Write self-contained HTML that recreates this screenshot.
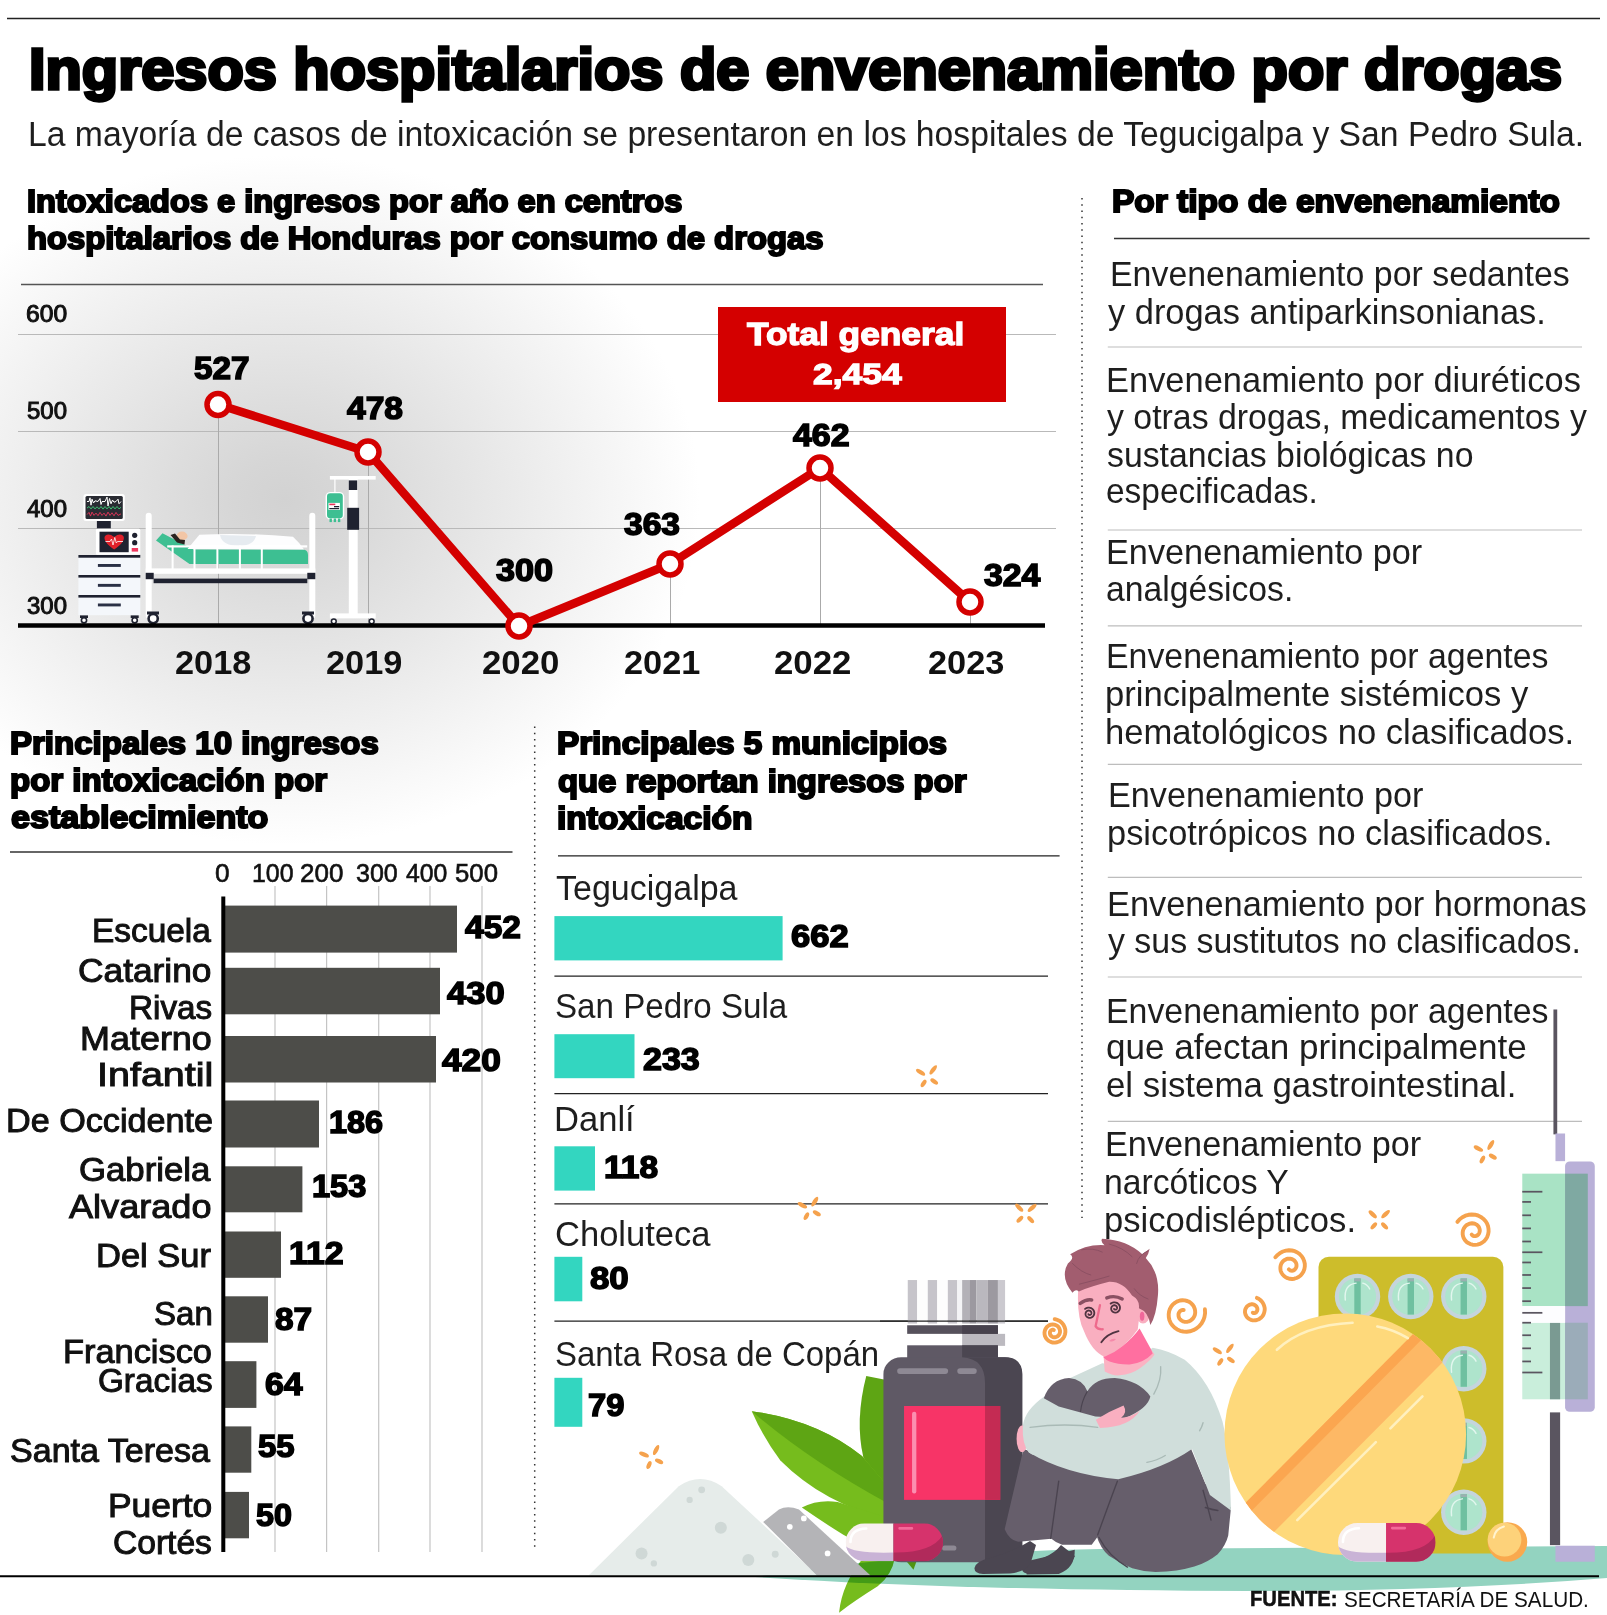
<!DOCTYPE html>
<html lang="es"><head><meta charset="utf-8"><title>Ingresos hospitalarios de envenenamiento por drogas</title>
<style>
html,body{margin:0;padding:0;background:#fff;}
body{width:1607px;height:1615px;position:relative;overflow:hidden;font-family:"Liberation Sans",sans-serif;}
#g{position:absolute;left:0;top:0;width:1607px;height:1615px;}
.t{position:absolute;white-space:nowrap;line-height:1;transform-origin:0 50%;font-family:"Liberation Sans",sans-serif;}
</style></head><body>
<svg id="g" width="1607" height="1615" viewBox="0 0 1607 1615">
<defs>
<radialGradient id="bg" cx="0.5" cy="0.5" r="0.5">
<stop offset="0" stop-color="#d2d2d2"/><stop offset="0.12" stop-color="#d6d6d6"/><stop offset="1" stop-color="#ffffff"/>
</radialGradient>
</defs>
<!--BG-->
<ellipse cx="285" cy="500" rx="415" ry="345" fill="url(#bg)"/>
<!--RULES-->
<g stroke="#222" stroke-width="1.5" fill="none">
<line x1="7" y1="18.5" x2="1600" y2="18.5"/>
</g>
<!--LINECHART-->
<g id="linechart">
<line x1="21" y1="284.5" x2="1043" y2="284.5" stroke="#555" stroke-width="1.3"/>
<g stroke="#b9b9b9" stroke-width="1">
<line x1="18" y1="334.5" x2="1056" y2="334.5"/>
<line x1="18" y1="431.5" x2="1056" y2="431.5"/>
<line x1="18" y1="528.5" x2="1056" y2="528.5"/>
</g>
<g stroke="#aaa" stroke-width="1">
<line x1="218.5" y1="405" x2="218.5" y2="625"/><line x1="368.5" y1="452" x2="368.5" y2="625"/>
<line x1="670.5" y1="564" x2="670.5" y2="625"/><line x1="820.5" y1="468" x2="820.5" y2="625"/><line x1="970.5" y1="602" x2="970.5" y2="625"/>
</g>
<!--HOSPITAL-->
<g id="hospital">
<!-- monitor -->
<rect x="83.5" y="493.9" width="41.3" height="27" rx="2.5" fill="#fff"/>
<rect x="85.5" y="495.9" width="37.3" height="23" rx="1.5" fill="#2a2c33"/>
<polyline points="87,501.5 89,501.5 90,497.8 91,505.2 92,499.2 93.5,503.0 95,500.8 98,501.5 100,498.5 101,504.5 102,501.5 105,501.5 107,497.0 108,506.0 109.5,498.5 111,503.8 112.5,500.0 114,502.2 116,501.5 118,499.2 119,503.8 121,501.5" fill="none" stroke="#fff" stroke-width="1"/>
<polyline points="87,508.1 89,506.5 91,508.9 93,506.5 95,508.9 97,506.8 99,508.9 101,506.5 103,509.1 105,506.5 107,508.9 109,506.5 111,509.1 113,506.5 115,508.9 117,506.5 119,508.9 121,507.3" fill="none" stroke="#3fd07a" stroke-width="0.9"/>
<polyline points="87,514.6 89,512.4 90.5,516.1 92,512.1 94,515.4 96,513.1 98,515.7 100,512.4 102,515.4 104,513.1 106,516.1 108,512.1 110,515.4 112,512.8 114,515.8 116,512.4 118,515.4 121,513.9" fill="none" stroke="#e8355a" stroke-width="0.9"/>
<rect x="96.9" y="521" width="13.9" height="7.5" fill="#1f2230"/>
<!-- heart monitor -->
<rect x="95.9" y="528.8" width="44.4" height="26" rx="1.5" fill="#fff"/>
<rect x="99.5" y="531.7" width="29.2" height="20.5" fill="#1f2230"/>
<path d="M114.2 549.5 C107 544.5 104.5 541 104.5 537.8 C104.5 534.3 109.5 532.8 114.2 537 C118.9 532.8 123.9 534.3 123.9 537.8 C123.9 541 121.4 544.5 114.2 549.5Z" fill="#e0202a"/>
<polyline points="105.5,541.5 110,541.5 111.5,539 113,545 114.8,537.5 116.3,543 117.5,541.5 123,541.5" fill="none" stroke="#fff" stroke-width="0.8"/>
<circle cx="134.7" cy="535.3" r="2.6" fill="#1f2230"/><circle cx="134.7" cy="542.7" r="2.6" fill="#1f2230"/>
<rect x="131.7" y="548" width="6.4" height="3.6" fill="#f0385f"/>
<!-- cabinet -->
<rect x="78.4" y="555.2" width="61.9" height="60" fill="#f4f7fb"/>
<rect x="78.4" y="555" width="61.9" height="2.7" fill="#1f2230"/>
<rect x="78.4" y="575" width="61.9" height="2.6" fill="#1f2230"/>
<rect x="78.4" y="595" width="61.9" height="2.6" fill="#1f2230"/>
<rect x="97.9" y="564" width="22.9" height="2.9" fill="#2a3045"/>
<rect x="97.9" y="583.9" width="22.9" height="2.9" fill="#2a3045"/>
<rect x="97.9" y="603.5" width="22.9" height="2.9" fill="#2a3045"/>
<g fill="#fff" stroke="#1f2230" stroke-width="1.6"><circle cx="84" cy="620.3" r="2.6"/><circle cx="134.7" cy="620.3" r="2.6"/></g>
<rect x="80" y="615.4" width="8" height="2.6" fill="#1f2230"/><rect x="130.7" y="615.4" width="8" height="2.6" fill="#1f2230"/>
<!-- bed -->
<path d="M156 540.5 L162.5 533.3 L193.5 549.6 L303 549.6 Q308 550 308 555 L308 564 L189.5 564 Z" fill="#3dbf92"/>
<path d="M187.5 549 L199.4 534.7 Q245 532.5 293 536.7 Q300 543 304 549.6 Z" fill="#fdfdfe"/>
<path d="M220 535 Q222 546 240 546 Q254 545 256 536 Z" fill="#e6ebf0"/>
<ellipse cx="182" cy="536" rx="5.6" ry="4.4" fill="#f2c6a6"/>
<path d="M170.5 535 L175 533.6 L180 539.5 L185 540 L184.5 544.5 L177 542.5 Z" fill="#2a2320"/>
<rect x="167.2" y="545.3" width="140" height="2.2" fill="#fff"/>
<g fill="#fff"><rect x="171.6" y="545.5" width="2" height="23.5"/><rect x="193.5" y="545.5" width="2" height="23.5"/><rect x="216.4" y="545.5" width="2" height="23.5"/><rect x="238.9" y="545.5" width="2" height="23.5"/><rect x="260.8" y="545.5" width="2" height="23.5"/></g>
<rect x="145.7" y="512.8" width="6" height="106" rx="3" fill="#fff"/>
<rect x="309.3" y="512.8" width="6" height="106" rx="3" fill="#fff"/>
<rect x="145.7" y="568.4" width="169.6" height="5.4" fill="#fff"/>
<rect x="145.7" y="572.8" width="8" height="6.4" fill="#1f2230"/><rect x="307.3" y="572.8" width="8" height="6.4" fill="#1f2230"/>
<rect x="153.6" y="578.6" width="153.7" height="4.6" fill="#1f2230"/>
<g fill="#fff" stroke="#1f2230" stroke-width="2.6"><circle cx="153.2" cy="618.6" r="4.6"/><circle cx="308" cy="618.6" r="4.6"/></g>
<rect x="147" y="611.5" width="12" height="3" fill="#1f2230"/><rect x="302" y="611.5" width="12" height="3" fill="#1f2230"/>
<!-- IV stand -->
<rect x="329.9" y="476" width="45.8" height="3.6" fill="#fff"/>
<rect x="348.8" y="478" width="8.9" height="137" fill="#fff"/>
<rect x="348.8" y="480.4" width="8.4" height="9.6" fill="#1f2230"/>
<rect x="347.2" y="507.8" width="11.9" height="22" fill="#1f2230"/>
<rect x="329.9" y="613.4" width="45.8" height="5" fill="#fff"/>
<g fill="#fff" stroke="#1f2230" stroke-width="1.5"><circle cx="333.8" cy="621.3" r="2.4"/><circle cx="371.7" cy="621.3" r="2.4"/></g>
<line x1="334.9" y1="479" x2="334.9" y2="493" stroke="#fff" stroke-width="1.2"/>
<rect x="326.3" y="492.6" width="17.2" height="26.4" rx="4" fill="#3dbf92" stroke="#fff" stroke-width="1.4"/>
<rect x="329.5" y="518.5" width="2.4" height="3.6" fill="#3dbf92"/><rect x="333.7" y="518.5" width="2.4" height="3.6" fill="#3dbf92"/><rect x="337.9" y="518.5" width="2.4" height="3.6" fill="#3dbf92"/>
<rect x="328.5" y="502.9" width="11.4" height="7" fill="#fff"/>
<rect x="329.3" y="503.6" width="6" height="1.6" fill="#e8355a"/><rect x="334" y="506" width="5.2" height="1.3" fill="#1f2230"/><rect x="329.3" y="508" width="9.8" height="1.2" fill="#1f2230"/>
</g>
<line x1="18" y1="625.5" x2="1045" y2="625.5" stroke="#000" stroke-width="4.5"/>
<rect x="718" y="307" width="288" height="95" fill="#d40000"/>
<polyline points="218,404.5 368,452 519,626 670,564 820,468 970,602" fill="none" stroke="#d40000" stroke-width="8.5" stroke-linejoin="round"/>
<g fill="#fff" stroke="#d40000" stroke-width="5.5">
<circle cx="218" cy="404.5" r="11"/><circle cx="368" cy="452" r="11"/><circle cx="519" cy="626" r="11"/>
<circle cx="670" cy="564" r="11"/><circle cx="820" cy="468" r="11"/><circle cx="970" cy="602" r="11"/>
</g>
</g>
<!--BARCHART-->
<g id="barchart">
<line x1="10" y1="852" x2="512.5" y2="852" stroke="#333" stroke-width="1.3"/>
<g stroke="#c4c4c4" stroke-width="1.2">
<line x1="275" y1="886" x2="275" y2="1552"/><line x1="326.6" y1="886" x2="326.6" y2="1552"/><line x1="378.7" y1="886" x2="378.7" y2="1552"/>
<line x1="430" y1="886" x2="430" y2="1552"/><line x1="482" y1="886" x2="482" y2="1552"/>
</g>
<g fill="#4d4d49">
<rect x="224" y="905.6" width="233" height="47"/>
<rect x="224" y="967.8" width="216" height="46.5"/>
<rect x="224" y="1036" width="212" height="46.5"/>
<rect x="224" y="1100.5" width="95" height="47"/>
<rect x="224" y="1166.3" width="78.4" height="46"/>
<rect x="224" y="1231.5" width="57" height="46.3"/>
<rect x="224" y="1296.3" width="44" height="46.4"/>
<rect x="224" y="1361.2" width="32.4" height="46.7"/>
<rect x="224" y="1426.4" width="27.3" height="46.3"/>
<rect x="224" y="1491.9" width="25" height="46.4"/>
</g>
<line x1="223.3" y1="896.5" x2="223.3" y2="1552" stroke="#000" stroke-width="4"/>
</g>
<!--DIVIDERS-->
<g stroke="#333" stroke-width="1.5" stroke-dasharray="1.5 4.75" fill="none">
<line x1="534.7" y1="726.6" x2="534.7" y2="1548"/>
<line x1="1082" y1="198" x2="1082" y2="1218"/>
</g>
<!--MUNI-->
<g id="muni" transform="translate(0 0.8)">
<g stroke="#222" stroke-width="1.3">
<line x1="558" y1="855" x2="1059.6" y2="855"/>
<line x1="554.4" y1="975.3" x2="1048" y2="975.3"/>
<line x1="554.4" y1="1092.8" x2="1048" y2="1092.8"/>
<line x1="554.4" y1="1203" x2="1048" y2="1203"/>
<line x1="554.4" y1="1320.4" x2="1048" y2="1320.4"/>
</g>
<g fill="#33d6c0">
<rect x="554.4" y="915.3" width="228.2" height="44.3"/>
<rect x="554.4" y="1033.4" width="80.1" height="44"/>
<rect x="554.4" y="1145.5" width="40.6" height="44.3"/>
<rect x="554.4" y="1256" width="27.9" height="44.5"/>
<rect x="554.4" y="1377" width="27.9" height="49"/>
</g>
</g>
<!--RIGHTRULES-->
<g id="rrules">
<line x1="1114" y1="238.5" x2="1589.6" y2="238.5" stroke="#333" stroke-width="1.3"/>
<g stroke="#bdbdbd" stroke-width="1.2">
<line x1="1107.8" y1="347" x2="1582" y2="347"/>
<line x1="1107.8" y1="530" x2="1582" y2="530"/>
<line x1="1107.8" y1="625.8" x2="1582" y2="625.8"/>
<line x1="1107.8" y1="764.4" x2="1582" y2="764.4"/>
<line x1="1107.8" y1="877.3" x2="1582" y2="877.3"/>
<line x1="1107.8" y1="977" x2="1582" y2="977"/>
<line x1="1107.8" y1="1121.3" x2="1582" y2="1121.3"/>
</g>
</g>
<!--ILLUSTRATION-->
<g id="illus">
<path d="M755 1577 Q900 1553 1100 1549 L1607 1546 L1607 1578 Q1450 1591 1250 1591 Q950 1590 755 1577Z" fill="#93d3c0"/>
<g transform="translate(580 1260) scale(0.28625)">
<path d="M1000 405 Q960 560 990 690 L1075 820 L1075 420 Z" fill="#5ea514"/>
<path d="M600 528 Q830 560 985 685 L1075 790 L1075 905 Q850 850 700 700 Q640 620 600 528Z" fill="#76bc1d"/>
<path d="M600 528 Q830 560 985 685 L1075 790 L1075 850 Q800 700 600 528Z" fill="#5ea514"/>
<path d="M775 865 Q830 835 900 845 L1075 900 L1075 1010 Q1000 1010 920 960 Q840 910 775 865Z" fill="#76bc1d"/>
<path d="M905 1232 Q915 1130 990 1040 L1100 1040 Q1090 1100 1040 1140 Q960 1190 905 1232Z" fill="#76bc1d" style="mix-blend-mode:multiply"/>
<path d="M1130 1040 L1180 1040 L1165 1082Z" fill="#4f9410"/>
<path d="M30 1102 L345 790 Q420 740 495 790 L830 1102 Z" fill="#e6ecea"/>
<circle cx="425" cy="803" r="12" fill="#cfd8d6"/>
<circle cx="383" cy="838" r="11" fill="#cfd8d6"/>
<circle cx="492" cy="935" r="21" fill="#cfd8d6"/>
<circle cx="215" cy="1025" r="21" fill="#cfd8d6"/>
<circle cx="258" cy="1060" r="11" fill="#cfd8d6"/>
<circle cx="588" cy="1048" r="21" fill="#cfd8d6"/>
<circle cx="682" cy="1028" r="12" fill="#cfd8d6"/>
<path d="M640 915 L695 872 Q725 855 765 872 L1015 1102 L828 1102 Z" fill="#b4b4b7"/>
<circle cx="733" cy="932" r="10" fill="#fff"/>
<circle cx="782" cy="903" r="10" fill="#fff"/>
<circle cx="865" cy="1025" r="10" fill="#fff"/>
<rect x="1145" y="70" width="33" height="152" fill="#c6c4ca"/>
<rect x="1178" y="70" width="37" height="152" fill="#fdfdfd"/>
<rect x="1215" y="70" width="33" height="152" fill="#c6c4ca"/>
<rect x="1248" y="70" width="37" height="152" fill="#fdfdfd"/>
<rect x="1285" y="70" width="33" height="152" fill="#c6c4ca"/>
<rect x="1318" y="70" width="17" height="152" fill="#f4f4f6"/>
<rect x="1335" y="70" width="25" height="152" fill="#b3b1b7"/>
<rect x="1360" y="70" width="25" height="152" fill="#9c99a0"/>
<rect x="1385" y="70" width="40" height="152" fill="#bab8be"/>
<rect x="1425" y="70" width="35" height="152" fill="#9c99a0"/>
<rect x="1460" y="70" width="25" height="152" fill="#cbc9cf"/>
<rect x="1335" y="258" width="150" height="42" fill="#bcbac0"/>
<rect x="1143" y="228" width="317" height="30" fill="#56515c"/>
<rect x="1335" y="228" width="125" height="30" fill="#47424d"/>
<rect x="1143" y="298" width="317" height="60" fill="#5f5965"/>
<rect x="1335" y="298" width="125" height="60" fill="#4b4651"/>
<rect x="1060" y="340" width="485" height="716" rx="62" ry="58" fill="#5f5965"/>
<path d="M1335 340 Q1415 345 1415 430 L1415 1056 L1490 1056 Q1545 1056 1545 1000 L1545 400 Q1545 340 1485 340 Z" fill="#4b4651"/>
<rect x="1108" y="378" width="178" height="20" rx="10" fill="#8e8994"/><rect x="1318" y="378" width="68" height="20" rx="10" fill="#8e8994"/>
<rect x="1265" y="997" width="50" height="18" rx="9" fill="#8e8994"/>
<rect x="1132" y="510" width="336" height="328" fill="#f73467"/><rect x="1415" y="510" width="53" height="328" fill="#c42b53"/>
<rect x="1160" y="530" width="15" height="286" rx="7" fill="#fb8fb0"/>
<clipPath id="cp1"><rect x="928" y="920" width="340" height="132" rx="66"/></clipPath>
<g clip-path="url(#cp1)"><rect x="928" y="920" width="167" height="132" fill="#f8f0ef"/><rect x="1095" y="920" width="173" height="132" fill="#d6336c"/><path d="M928 1000 Q960 1026 1095 1022 L1095 1052 L928 1052Z" fill="#c9b3d6"/><path d="M1095 1022 Q1230 1024 1268 960 L1268 1052 L1095 1052Z" fill="#b12a5b"/><path d="M945 985 Q945 940 1000 938" fill="none" stroke="#fff" stroke-width="9" stroke-linecap="round"/><rect x="1112" y="933" width="52" height="9" rx="4" fill="#f46a9a"/></g>
</g>
<g transform="translate(990 1220) scale(0.22907)">
<path d="M160 1490 Q250 1470 370 1440 Q372 1520 300 1545 L160 1548 Z" fill="#4b4651"/>
<path d="M146 1000 L64 1350 Q85 1400 125 1405 L268 1391 Q290 1410 315 1418 L444 1418 Q470 1385 494 1343 L590 1118 L300 1050 Z" fill="#665e6b"/>
<path d="M560 1120 Q530 1230 519 1262 Q480 1340 465 1377 Q480 1430 519 1466 Q570 1500 621 1520 Q670 1535 723 1537 Q820 1535 892 1513 Q950 1495 994 1459 Q1030 1420 1040 1377 L1052 1255 L940 1150 L870 980 Q700 1110 560 1120Z" fill="#665e6b"/>
<path d="M490 625 L350 690 L240 768 Q150 830 143 900 Q140 980 170 1015 Q330 1110 560 1132 Q760 1085 882 1000 L960 1200 L1052 1268 Q1045 1000 1015 880 Q960 700 850 610 Q780 570 710 558 L600 640 Z" fill="#d0dedb"/>
<path d="M235 778 Q265 695 345 690 Q405 695 425 748 Q460 690 545 690 Q650 700 700 770 Q690 822 590 864 L460 858 L300 814 Z" fill="#665e6b"/>
<path d="M425 748 Q400 790 395 838" fill="none" stroke="#4b4450" stroke-width="5"/>
<path d="M462 872 Q520 835 583 810 Q602 842 572 864 Q620 860 655 832 Q610 905 480 908 Z" fill="#f9afc0"/>
<ellipse cx="140" cy="955" rx="24" ry="58" fill="#f9afc0"/>
<path d="M143 900 Q140 980 170 1015 Q190 1030 200 1025 Q170 960 175 890 Z" fill="#d0dedb"/>
<g fill="none" stroke="#a9bab6" stroke-width="6" stroke-linecap="round"><path d="M175 905 Q330 885 470 905"/><path d="M685 1058 Q730 1050 765 1028"/><path d="M930 885 Q925 905 915 920"/><path d="M745 640 Q750 700 715 760"/></g>
<g fill="none" stroke="#4b4450" stroke-width="6" stroke-linecap="round"><path d="M300 1140 Q280 1280 265 1390"/><path d="M556 1140 Q500 1290 470 1375"/><path d="M475 1385 Q520 1470 600 1515"/><path d="M930 1180 Q950 1250 965 1310"/><path d="M940 1255 Q970 1265 995 1268"/></g>
<path d="M496 598 L501 661 Q540 682 566 678 Q620 672 653 648 Q700 615 718 587 L701 561 Z" fill="#fbb3c3"/>
<path d="M496 591 Q590 560 653 474 L701 561 L710 583 Q670 625 610 631 Q560 632 522 618 Q505 610 496 600 Z" fill="#ff6fa0"/>
<ellipse cx="668" cy="412" rx="30" ry="40" fill="#f9afc0"/><ellipse cx="664" cy="420" rx="10" ry="20" fill="#f0679a"/>
<path d="M385 305 Q378 420 410 485 Q445 575 500 597 Q585 565 645 478 L662 330 Q560 190 385 290Z" fill="#f9afc0"/>
<path d="M350 150 Q420 105 500 110 Q480 92 490 82 Q600 88 665 150 L697 125 Q692 150 680 166 Q742 230 733 330 Q726 420 700 458 Q692 400 650 385 Q655 350 620 330 Q580 268 520 270 Q440 290 388 312 Q372 298 360 318 Q305 250 340 190 Q372 165 350 150Z" fill="#a25d6f"/>
<g fill="none" stroke="#8a4f61" stroke-width="4" stroke-linecap="round"><path d="M400 130 Q450 120 490 140"/><path d="M360 190 Q400 230 440 240"/><path d="M520 105 Q580 120 620 160"/><path d="M640 190 Q650 150 690 135"/><path d="M630 300 Q650 330 690 345"/><path d="M390 280 Q470 260 520 245"/></g>
<path d="M429.6 411.1 L430.0 412.0 L430.6 412.8 L431.4 413.5 L432.4 414.1 L433.6 414.4 L434.8 414.6 L436.2 414.5 L437.5 414.1 L438.8 413.4 L440.0 412.5 L441.1 411.3 L441.9 409.8 L442.4 408.2 L442.7 406.4 L442.6 404.5 L442.1 402.6 L441.3 400.8 L440.0 399.1 L438.5 397.7 L436.6 396.5 L434.5 395.7 L432.2 395.2 L429.8 395.2 L427.4 395.7 L425.0 396.6 L422.8 398.0 L420.8 399.8 L419.2 402.0 L418.0 404.5 L417.2 407.3 L417.0 410.2 L417.3 413.2 L418.2 416.2 L419.7 419.0 L421.6 421.5 L424.1 423.7 L427.0 425.4 L430.2 426.6 L433.7 427.1 L437.2 427.1 L440.8 426.3 L444.2 424.9 L447.3 422.9 L450.1 420.2 L452.4 417.0 L454.1 413.5 L455.1 409.5 L455.4 405.5 L454.9 401.3 L453.6 397.3 L451.6 393.4 L448.9 390.0 L445.6 387.1 L441.7 384.8 L437.4 383.3 L432.8 382.5 L428.1 382.6 L423.4 383.6 L418.9 385.4 L414.8 388.1" fill="none" stroke="#4f3340" stroke-width="8" stroke-linecap="round" stroke-linejoin="round"/>
<path d="M541.6 388.1 L542.0 389.0 L542.6 389.8 L543.4 390.5 L544.4 391.1 L545.6 391.4 L546.8 391.6 L548.2 391.5 L549.5 391.1 L550.8 390.4 L552.0 389.5 L553.1 388.3 L553.9 386.8 L554.4 385.2 L554.7 383.4 L554.6 381.5 L554.1 379.6 L553.3 377.8 L552.0 376.1 L550.5 374.7 L548.6 373.5 L546.5 372.7 L544.2 372.2 L541.8 372.2 L539.4 372.7 L537.0 373.6 L534.8 375.0 L532.8 376.8 L531.2 379.0 L530.0 381.5 L529.2 384.3 L529.0 387.2 L529.3 390.2 L530.2 393.2 L531.7 396.0 L533.6 398.5 L536.1 400.7 L539.0 402.4 L542.2 403.6 L545.7 404.1 L549.2 404.1 L552.8 403.3 L556.2 401.9 L559.3 399.9 L562.1 397.2 L564.4 394.0 L566.1 390.5 L567.1 386.5 L567.4 382.5 L566.9 378.3 L565.6 374.3 L563.6 370.4 L560.9 367.0 L557.6 364.1 L553.7 361.8 L549.4 360.3 L544.8 359.5 L540.1 359.6 L535.4 360.6 L530.9 362.4 L526.8 365.1" fill="none" stroke="#4f3340" stroke-width="8" stroke-linecap="round" stroke-linejoin="round"/>
<g fill="none" stroke="#8a5062" stroke-width="15" stroke-linecap="round"><path d="M394 364 Q420 345 444 349"/><path d="M510 340 Q545 327 577 345"/></g>
<path d="M480 372 L461 464 Q470 478 492 477" fill="none" stroke="#ee6a8c" stroke-width="10" stroke-linecap="round" stroke-linejoin="round"/>
<path d="M486 534 Q510 497 561 485" fill="none" stroke="#4f3340" stroke-width="8" stroke-linecap="round"/>
<path d="M520 528 Q535 514 550 520 Q540 536 520 528Z" fill="#f58aaa"/>
</g>
<path d="M1022 1569 Q1028 1562 1043 1558 Q1055 1553 1061 1545 L1075 1556 Q1070 1568 1058 1573 L1030 1574 Q1022 1573.5 1022 1569Z" fill="#4b4651"/>
<path d="M974.5 1568 Q976 1561 990 1558 Q1010 1553 1030 1541 L1036 1545 L1031 1562 Q1026 1572 1010 1573.5 L983 1574 Q974 1573.5 974.5 1568Z" fill="#4b4651"/>
<g transform="translate(1207 1130) scale(0.29112)">
<rect x="383" y="435" width="635" height="1020" rx="36" fill="#cdbd2b"/>
<circle cx="517" cy="572" r="78" fill="#c5d5dc"/><circle cx="517" cy="572" r="64" fill="#aee4cc"/><rect x="506" y="510" width="22" height="124" fill="#6fc0a0"/><rect x="506" y="510" width="22" height="10" fill="#9ab0b0"/><path d="M475 584 Q469 532 512 526" fill="none" stroke="#e2f6ee" stroke-width="5" stroke-linecap="round"/><path d="M535 526 Q551 530 559 546" fill="none" stroke="#e2f6ee" stroke-width="5" stroke-linecap="round"/>
<circle cx="700" cy="572" r="78" fill="#c5d5dc"/><circle cx="700" cy="572" r="64" fill="#aee4cc"/><rect x="689" y="510" width="22" height="124" fill="#6fc0a0"/><rect x="689" y="510" width="22" height="10" fill="#9ab0b0"/><path d="M658 584 Q652 532 695 526" fill="none" stroke="#e2f6ee" stroke-width="5" stroke-linecap="round"/><path d="M718 526 Q734 530 742 546" fill="none" stroke="#e2f6ee" stroke-width="5" stroke-linecap="round"/>
<circle cx="882" cy="572" r="78" fill="#c5d5dc"/><circle cx="882" cy="572" r="64" fill="#aee4cc"/><rect x="871" y="510" width="22" height="124" fill="#6fc0a0"/><rect x="871" y="510" width="22" height="10" fill="#9ab0b0"/><path d="M840 584 Q834 532 877 526" fill="none" stroke="#e2f6ee" stroke-width="5" stroke-linecap="round"/><path d="M900 526 Q916 530 924 546" fill="none" stroke="#e2f6ee" stroke-width="5" stroke-linecap="round"/>
<circle cx="882" cy="820" r="78" fill="#c5d5dc"/><circle cx="882" cy="820" r="64" fill="#aee4cc"/><rect x="871" y="758" width="22" height="124" fill="#6fc0a0"/><rect x="871" y="758" width="22" height="10" fill="#9ab0b0"/><path d="M840 832 Q834 780 877 774" fill="none" stroke="#e2f6ee" stroke-width="5" stroke-linecap="round"/><path d="M900 774 Q916 778 924 794" fill="none" stroke="#e2f6ee" stroke-width="5" stroke-linecap="round"/>
<circle cx="882" cy="1068" r="78" fill="#c5d5dc"/><circle cx="882" cy="1068" r="64" fill="#aee4cc"/><rect x="871" y="1006" width="22" height="124" fill="#6fc0a0"/><rect x="871" y="1006" width="22" height="10" fill="#9ab0b0"/><path d="M840 1080 Q834 1028 877 1022" fill="none" stroke="#e2f6ee" stroke-width="5" stroke-linecap="round"/><path d="M900 1022 Q916 1026 924 1042" fill="none" stroke="#e2f6ee" stroke-width="5" stroke-linecap="round"/>
<circle cx="882" cy="1313" r="78" fill="#c5d5dc"/><circle cx="882" cy="1313" r="64" fill="#aee4cc"/><rect x="871" y="1251" width="22" height="124" fill="#6fc0a0"/><rect x="871" y="1251" width="22" height="10" fill="#9ab0b0"/><path d="M840 1325 Q834 1273 877 1267" fill="none" stroke="#e2f6ee" stroke-width="5" stroke-linecap="round"/><path d="M900 1267 Q916 1271 924 1287" fill="none" stroke="#e2f6ee" stroke-width="5" stroke-linecap="round"/>
<clipPath id="cpp"><circle cx="475" cy="1045" r="415"/></clipPath>
<circle cx="475" cy="1045" r="415" fill="#fed97b"/>
<g clip-path="url(#cpp)"><g transform="translate(470 1040) rotate(-45.2)"><rect x="-600" y="-70" width="1200" height="140" fill="#fdb865"/><rect x="-600" y="-70" width="1200" height="34" fill="#fba650"/></g></g>
<g fill="none" stroke="#fff0bf" stroke-width="9" stroke-linecap="round"><path d="M240 755 Q330 670 500 662"/><path d="M585 675 Q640 685 690 715"/><path d="M630 1025 L740 915"/><path d="M310 1340 L580 1072"/></g>
<clipPath id="cp2"><rect x="450" y="1350" width="335" height="133" rx="66"/></clipPath>
<g clip-path="url(#cp2)"><rect x="450" y="1350" width="165" height="133" fill="#f8f0ef"/><rect x="615" y="1350" width="170" height="133" fill="#d6336c"/><path d="M450 1430 Q480 1456 615 1452 L615 1483 L450 1483Z" fill="#c9b3d6"/><path d="M615 1452 Q750 1454 785 1390 L785 1483 L615 1483Z" fill="#b12a5b"/><path d="M467 1415 Q467 1370 522 1368" fill="none" stroke="#fff" stroke-width="9" stroke-linecap="round"/><rect x="632" y="1363" width="52" height="9" rx="4" fill="#f46a9a"/></g>
<circle cx="1032" cy="1415" r="68" fill="#f9a94e"/><circle cx="1022" cy="1407" r="58" fill="#fdd27a"/><path d="M985 1400 Q990 1370 1020 1362" fill="none" stroke="#fff3cf" stroke-width="7" stroke-linecap="round"/>
<rect x="1190" y="-414" width="13" height="429" fill="#5a5560"/>
<rect x="1197" y="12" width="33" height="95" fill="#b9b0d8"/>
<rect x="1230" y="108" width="102" height="860" rx="16" fill="#b9b0d8"/>
<rect x="1083" y="150" width="147" height="455" fill="#a9e3c5"/><rect x="1230" y="150" width="78" height="455" fill="#7fa9a2"/>
<rect x="1083" y="662" width="147" height="263" fill="#c9eedb"/><rect x="1230" y="662" width="78" height="263" fill="#9bacb9"/>
<rect x="1178" y="662" width="35" height="263" fill="#7a9a92"/>
<rect x="1083" y="605" width="147" height="57" fill="#fdfdff"/>
<g stroke="#5a5560" stroke-width="6"><line x1="1083" y1="212" x2="1152" y2="212"/><line x1="1083" y1="420" x2="1152" y2="420"/><line x1="1083" y1="628" x2="1152" y2="628"/><line x1="1083" y1="833" x2="1152" y2="833"/><line x1="1083" y1="247" x2="1113" y2="247"/><line x1="1083" y1="293" x2="1113" y2="293"/><line x1="1083" y1="338" x2="1113" y2="338"/><line x1="1083" y1="383" x2="1113" y2="383"/><line x1="1083" y1="455" x2="1113" y2="455"/><line x1="1083" y1="498" x2="1113" y2="498"/><line x1="1083" y1="543" x2="1113" y2="543"/><line x1="1083" y1="588" x2="1113" y2="588"/><line x1="1083" y1="662" x2="1113" y2="662"/><line x1="1083" y1="705" x2="1113" y2="705"/><line x1="1083" y1="750" x2="1113" y2="750"/><line x1="1083" y1="795" x2="1113" y2="795"/></g>
<rect x="1178" y="970" width="35" height="456" fill="#5a5560"/>
<rect x="1197" y="1428" width="135" height="55" fill="#b9b0d8"/>
</g>
<path d="M1288.9 1269.3 L1289.3 1269.7 L1289.8 1270.1 L1290.5 1270.5 L1291.2 1270.6 L1292.0 1270.7 L1292.8 1270.6 L1293.6 1270.3 L1294.4 1269.8 L1295.1 1269.1 L1295.7 1268.3 L1296.2 1267.4 L1296.5 1266.3 L1296.5 1265.1 L1296.4 1264.0 L1296.0 1262.8 L1295.3 1261.7 L1294.5 1260.7 L1293.4 1259.9 L1292.2 1259.2 L1290.8 1258.8 L1289.3 1258.6 L1287.8 1258.7 L1286.2 1259.2 L1284.8 1259.9 L1283.4 1260.9 L1282.3 1262.1 L1281.3 1263.6 L1280.7 1265.3 L1280.4 1267.1 L1280.4 1269.0 L1280.7 1270.9 L1281.5 1272.8 L1282.6 1274.5 L1284.0 1276.0 L1285.7 1277.3 L1287.6 1278.2 L1289.8 1278.8 L1292.0 1279.0 L1294.3 1278.7 L1296.5 1278.0 L1298.6 1277.0 L1300.6 1275.5 L1302.2 1273.6 L1303.5 1271.4 L1304.4 1269.0 L1304.8 1266.5 L1304.8 1263.8 L1304.2 1261.2 L1303.2 1258.6 L1301.7 1256.3 L1299.8 1254.2 L1297.4 1252.5 L1294.8 1251.2 L1291.9 1250.5 L1288.9 1250.2 L1285.9 1250.6 L1282.9 1251.5 L1280.1 1252.9 L1277.6 1254.9 L1275.4 1257.3" fill="none" stroke="#f5a24d" stroke-width="3.9" stroke-linecap="round" stroke-linejoin="round"/>
<path d="M1471.7 1234.6 L1472.1 1235.1 L1472.7 1235.6 L1473.4 1235.9 L1474.1 1236.1 L1475.0 1236.1 L1475.9 1236.0 L1476.7 1235.7 L1477.6 1235.2 L1478.3 1234.5 L1479.0 1233.6 L1479.4 1232.6 L1479.7 1231.5 L1479.8 1230.3 L1479.6 1229.0 L1479.2 1227.8 L1478.5 1226.6 L1477.6 1225.5 L1476.5 1224.6 L1475.2 1223.9 L1473.7 1223.5 L1472.1 1223.3 L1470.5 1223.5 L1468.9 1223.9 L1467.3 1224.7 L1465.9 1225.7 L1464.7 1227.1 L1463.7 1228.6 L1463.0 1230.4 L1462.7 1232.4 L1462.7 1234.4 L1463.1 1236.4 L1463.8 1238.3 L1465.0 1240.2 L1466.5 1241.8 L1468.3 1243.1 L1470.3 1244.1 L1472.6 1244.7 L1475.0 1244.9 L1477.4 1244.6 L1479.8 1243.9 L1482.0 1242.8 L1484.1 1241.2 L1485.8 1239.2 L1487.2 1236.9 L1488.1 1234.4 L1488.6 1231.6 L1488.5 1228.8 L1488.0 1226.0 L1486.9 1223.3 L1485.3 1220.8 L1483.2 1218.7 L1480.8 1216.9 L1478.0 1215.5 L1474.9 1214.7 L1471.7 1214.5 L1468.5 1214.8 L1465.4 1215.7 L1462.4 1217.3 L1459.7 1219.3 L1457.4 1221.9" fill="none" stroke="#f5a24d" stroke-width="3.9" stroke-linecap="round" stroke-linejoin="round"/>
<path d="M1252.8 1312.7 L1253.1 1312.9 L1253.5 1313.1 L1254.0 1313.1 L1254.4 1313.1 L1254.9 1313.0 L1255.4 1312.8 L1255.9 1312.5 L1256.3 1312.1 L1256.7 1311.6 L1257.0 1311.1 L1257.2 1310.4 L1257.4 1309.8 L1257.4 1309.0 L1257.3 1308.3 L1257.0 1307.6 L1256.7 1306.9 L1256.2 1306.2 L1255.5 1305.6 L1254.8 1305.1 L1254.0 1304.7 L1253.1 1304.4 L1252.2 1304.3 L1251.2 1304.3 L1250.2 1304.5 L1249.2 1304.9 L1248.2 1305.4 L1247.4 1306.1 L1246.6 1306.9 L1246.0 1307.9 L1245.5 1308.9 L1245.1 1310.1 L1245.0 1311.3 L1245.0 1312.6 L1245.3 1313.9 L1245.7 1315.1 L1246.4 1316.3 L1247.2 1317.4 L1248.3 1318.3 L1249.5 1319.1 L1250.8 1319.8 L1252.2 1320.2 L1253.7 1320.4 L1255.3 1320.3 L1256.8 1320.0 L1258.3 1319.5 L1259.7 1318.7 L1261.1 1317.7 L1262.2 1316.5 L1263.2 1315.1 L1263.9 1313.5 L1264.4 1311.8 L1264.7 1310.0 L1264.7 1308.2 L1264.3 1306.4 L1263.7 1304.6 L1262.8 1302.9 L1261.7 1301.4 L1260.3 1300.0 L1258.7 1298.8 L1256.9 1297.9" fill="none" stroke="#f5a24d" stroke-width="3.9" stroke-linecap="round" stroke-linejoin="round"/>
<path d="M1183.7 1310.0 L1182.9 1309.9 L1182.2 1310.0 L1181.4 1310.3 L1180.6 1310.7 L1179.9 1311.3 L1179.3 1312.1 L1178.8 1313.0 L1178.5 1314.1 L1178.5 1315.2 L1178.6 1316.4 L1179.0 1317.6 L1179.6 1318.7 L1180.5 1319.7 L1181.6 1320.6 L1182.9 1321.3 L1184.3 1321.7 L1185.9 1321.9 L1187.5 1321.7 L1189.1 1321.3 L1190.6 1320.5 L1192.0 1319.4 L1193.2 1318.1 L1194.2 1316.5 L1194.9 1314.7 L1195.2 1312.7 L1195.1 1310.7 L1194.7 1308.7 L1193.9 1306.7 L1192.7 1304.9 L1191.2 1303.3 L1189.3 1301.9 L1187.2 1301.0 L1184.8 1300.4 L1182.4 1300.2 L1179.9 1300.5 L1177.5 1301.3 L1175.2 1302.6 L1173.1 1304.2 L1171.4 1306.3 L1170.0 1308.7 L1169.1 1311.4 L1168.7 1314.2 L1168.8 1317.1 L1169.4 1320.0 L1170.6 1322.8 L1172.4 1325.4 L1174.6 1327.6 L1177.2 1329.4 L1180.1 1330.8 L1183.3 1331.5 L1186.7 1331.7 L1190.0 1331.3 L1193.3 1330.2 L1196.4 1328.5 L1199.2 1326.3 L1201.5 1323.5 L1203.3 1320.3 L1204.5 1316.8 L1205.1 1313.1 L1204.9 1309.3" fill="none" stroke="#f5a24d" stroke-width="3.9" stroke-linecap="round" stroke-linejoin="round"/>
<path d="M1053.8 1330.0 L1053.3 1329.8 L1052.8 1329.8 L1052.2 1329.8 L1051.6 1330.0 L1051.0 1330.4 L1050.6 1330.9 L1050.2 1331.5 L1049.9 1332.3 L1049.9 1333.1 L1050.0 1333.9 L1050.2 1334.7 L1050.7 1335.5 L1051.4 1336.2 L1052.2 1336.7 L1053.2 1337.1 L1054.2 1337.3 L1055.3 1337.2 L1056.4 1336.9 L1057.5 1336.3 L1058.4 1335.5 L1059.1 1334.6 L1059.7 1333.4 L1060.0 1332.1 L1060.0 1330.7 L1059.7 1329.4 L1059.1 1328.0 L1058.3 1326.8 L1057.1 1325.8 L1055.8 1325.1 L1054.3 1324.6 L1052.7 1324.4 L1051.0 1324.6 L1049.4 1325.2 L1047.9 1326.1 L1046.6 1327.3 L1045.6 1328.8 L1044.9 1330.5 L1044.5 1332.4 L1044.6 1334.3 L1045.0 1336.2 L1045.9 1338.0 L1047.2 1339.6 L1048.8 1340.9 L1050.6 1341.9 L1052.7 1342.5 L1054.9 1342.6 L1057.1 1342.3 L1059.2 1341.5 L1061.1 1340.3 L1062.8 1338.7 L1064.1 1336.7 L1065.0 1334.4 L1065.4 1332.0 L1065.3 1329.5 L1064.6 1327.1 L1063.5 1324.8 L1061.8 1322.8 L1059.8 1321.1 L1057.4 1319.9 L1054.7 1319.2" fill="none" stroke="#f5a24d" stroke-width="3.9" stroke-linecap="round" stroke-linejoin="round"/>
<g fill="#f5a24d"><ellipse cx="1492.8" cy="1156.6" rx="4.4" ry="2.15" transform="rotate(30 1492.8 1156.6)"/><ellipse cx="1482.4" cy="1159.5" rx="4.2" ry="2.15" transform="rotate(118 1482.4 1159.5)"/><ellipse cx="1478.4" cy="1148.6" rx="5.2" ry="2.15" transform="rotate(208 1478.4 1148.6)"/><ellipse cx="1490.8" cy="1145.0" rx="5.6" ry="2.15" transform="rotate(302 1490.8 1145.0)"/></g>
<g fill="#f5a24d"><ellipse cx="1384.6" cy="1225.9" rx="4.4" ry="2.15" transform="rotate(45 1384.6 1225.9)"/><ellipse cx="1373.8" cy="1225.9" rx="4.2" ry="2.15" transform="rotate(133 1373.8 1225.9)"/><ellipse cx="1372.7" cy="1214.4" rx="5.2" ry="2.15" transform="rotate(223 1372.7 1214.4)"/><ellipse cx="1385.6" cy="1214.1" rx="5.6" ry="2.15" transform="rotate(317 1385.6 1214.1)"/></g>
<g fill="#f5a24d"><ellipse cx="1230.9" cy="1360.0" rx="4.4" ry="2.15" transform="rotate(35 1230.9 1360.0)"/><ellipse cx="1220.3" cy="1361.9" rx="4.2" ry="2.15" transform="rotate(123 1220.3 1361.9)"/><ellipse cx="1217.3" cy="1350.8" rx="5.2" ry="2.15" transform="rotate(213 1217.3 1350.8)"/><ellipse cx="1229.9" cy="1348.3" rx="5.6" ry="2.15" transform="rotate(307 1229.9 1348.3)"/></g>
<g fill="#f5a24d"><ellipse cx="934.2" cy="1081.5" rx="4.4" ry="2.15" transform="rotate(35 934.2 1081.5)"/><ellipse cx="923.6" cy="1083.4" rx="4.2" ry="2.15" transform="rotate(123 923.6 1083.4)"/><ellipse cx="920.6" cy="1072.3" rx="5.2" ry="2.15" transform="rotate(213 920.6 1072.3)"/><ellipse cx="933.2" cy="1069.8" rx="5.6" ry="2.15" transform="rotate(307 933.2 1069.8)"/></g>
<g fill="#f5a24d"><ellipse cx="816.8" cy="1213.3" rx="4.4" ry="2.15" transform="rotate(30 816.8 1213.3)"/><ellipse cx="806.4" cy="1216.2" rx="4.2" ry="2.15" transform="rotate(118 806.4 1216.2)"/><ellipse cx="802.4" cy="1205.3" rx="5.2" ry="2.15" transform="rotate(208 802.4 1205.3)"/><ellipse cx="814.8" cy="1201.7" rx="5.6" ry="2.15" transform="rotate(302 814.8 1201.7)"/></g>
<g fill="#f5a24d"><ellipse cx="1030.7" cy="1219.6" rx="4.4" ry="2.15" transform="rotate(47 1030.7 1219.6)"/><ellipse cx="1019.9" cy="1219.2" rx="4.2" ry="2.15" transform="rotate(135 1019.9 1219.2)"/><ellipse cx="1019.2" cy="1207.7" rx="5.2" ry="2.15" transform="rotate(225 1019.2 1207.7)"/><ellipse cx="1032.1" cy="1207.9" rx="5.6" ry="2.15" transform="rotate(319 1032.1 1207.9)"/></g>
<g fill="#f5a24d"><ellipse cx="659.1" cy="1461.3" rx="4.4" ry="2.15" transform="rotate(25 659.1 1461.3)"/><ellipse cx="649.0" cy="1465.1" rx="4.2" ry="2.15" transform="rotate(113 649.0 1465.1)"/><ellipse cx="644.0" cy="1454.6" rx="5.2" ry="2.15" transform="rotate(203 644.0 1454.6)"/><ellipse cx="656.1" cy="1450.0" rx="5.6" ry="2.15" transform="rotate(297 656.1 1450.0)"/></g>
</g>
<!--/ILLUSTRATION-->
<line id="overrule" x1="880" y1="1321.2" x2="1048" y2="1321.2" stroke="#222" stroke-width="1.3"/>
<line id="botrule" x1="0" y1="1576.3" x2="1599" y2="1576.3" stroke="#000" stroke-width="2"/>
</svg>

<span class="t" style="left:28.94px;top:39.98px;font-size:58.26px;font-weight:700;color:#000;-webkit-text-stroke:3.4px #000;transform:scaleX(1.0208);">Ingresos hospitalarios de envenenamiento por drogas</span>
<span class="t" style="left:27.60px;top:117.32px;font-size:35.51px;font-weight:400;color:#1e1e1e;transform:scaleX(0.9492);">La mayoría de casos de intoxicación se presentaron en los hospitales de Tegucigalpa y San Pedro Sula.</span>
<span class="t" style="left:27.30px;top:186.34px;font-size:31.01px;font-weight:700;color:#000;-webkit-text-stroke:2.0px #000;transform:scaleX(1.0510);">Intoxicados e ingresos por año en centros</span>
<span class="t" style="left:27.28px;top:222.64px;font-size:31.01px;font-weight:700;color:#000;-webkit-text-stroke:2.0px #000;transform:scaleX(1.0581);">hospitalarios de Honduras por consumo de drogas</span>
<span class="t" style="left:26.14px;top:303.03px;font-size:23.14px;font-weight:400;color:#111;-webkit-text-stroke:1.0px #111;transform:scaleX(1.0648);">600</span>
<span class="t" style="left:27.20px;top:400.03px;font-size:23.14px;font-weight:400;color:#111;-webkit-text-stroke:1.0px #111;transform:scaleX(1.0365);">500</span>
<span class="t" style="left:27.20px;top:498.13px;font-size:23.14px;font-weight:400;color:#111;-webkit-text-stroke:1.0px #111;transform:scaleX(1.0365);">400</span>
<span class="t" style="left:27.20px;top:595.33px;font-size:23.14px;font-weight:400;color:#111;-webkit-text-stroke:1.0px #111;transform:scaleX(1.0365);">300</span>
<span class="t" style="left:174.96px;top:647.47px;font-size:32.86px;font-weight:700;color:#111;transform:scaleX(1.0442);">2018</span>
<span class="t" style="left:325.96px;top:647.47px;font-size:32.86px;font-weight:700;color:#111;transform:scaleX(1.0442);">2019</span>
<span class="t" style="left:482.44px;top:647.47px;font-size:32.86px;font-weight:700;color:#111;transform:scaleX(1.0590);">2020</span>
<span class="t" style="left:624.46px;top:647.47px;font-size:32.86px;font-weight:700;color:#111;transform:scaleX(1.0442);">2021</span>
<span class="t" style="left:774.44px;top:647.47px;font-size:32.86px;font-weight:700;color:#111;transform:scaleX(1.0590);">2022</span>
<span class="t" style="left:928.46px;top:647.47px;font-size:32.86px;font-weight:700;color:#111;transform:scaleX(1.0442);">2023</span>
<span class="t" style="left:193.75px;top:352.88px;font-size:30.43px;font-weight:700;color:#000;-webkit-text-stroke:1.5px #000;transform:scaleX(1.0935);">527</span>
<span class="t" style="left:346.75px;top:393.38px;font-size:30.43px;font-weight:700;color:#000;-webkit-text-stroke:1.5px #000;transform:scaleX(1.1036);">478</span>
<span class="t" style="left:495.75px;top:555.38px;font-size:30.43px;font-weight:700;color:#000;-webkit-text-stroke:1.5px #000;transform:scaleX(1.1236);">300</span>
<span class="t" style="left:623.75px;top:508.88px;font-size:30.43px;font-weight:700;color:#000;-webkit-text-stroke:1.5px #000;transform:scaleX(1.1036);">363</span>
<span class="t" style="left:792.75px;top:420.38px;font-size:30.43px;font-weight:700;color:#000;-webkit-text-stroke:1.5px #000;transform:scaleX(1.1136);">462</span>
<span class="t" style="left:983.75px;top:560.38px;font-size:30.43px;font-weight:700;color:#000;-webkit-text-stroke:1.5px #000;transform:scaleX(1.1114);">324</span>
<span class="t" style="left:747.15px;top:319.37px;font-size:31.74px;font-weight:700;color:#fff;-webkit-text-stroke:1.3px #fff;transform:scaleX(1.1131);">Total general</span>
<span class="t" style="left:813.48px;top:359.10px;font-size:30.29px;font-weight:700;color:#fff;-webkit-text-stroke:1.3px #fff;transform:scaleX(1.1703);">2,454</span>
<span class="t" style="left:9.67px;top:728.14px;font-size:31.01px;font-weight:700;color:#000;-webkit-text-stroke:2.0px #000;transform:scaleX(1.0647);">Principales 10 ingresos</span>
<span class="t" style="left:9.67px;top:765.14px;font-size:31.01px;font-weight:700;color:#000;-webkit-text-stroke:2.0px #000;transform:scaleX(1.0645);">por intoxicación por</span>
<span class="t" style="left:10.70px;top:802.14px;font-size:31.01px;font-weight:700;color:#000;-webkit-text-stroke:2.0px #000;transform:scaleX(1.0987);">establecimiento</span>
<span class="t" style="left:215.17px;top:860.68px;font-size:25.43px;font-weight:400;color:#111;-webkit-text-stroke:0.6px #111;transform:scaleX(1.0308);">0</span>
<span class="t" style="left:251.52px;top:860.68px;font-size:25.43px;font-weight:400;color:#111;-webkit-text-stroke:0.6px #111;transform:scaleX(0.9788);">100</span>
<span class="t" style="left:300.28px;top:860.68px;font-size:25.43px;font-weight:400;color:#111;-webkit-text-stroke:0.6px #111;transform:scaleX(1.0224);">200</span>
<span class="t" style="left:356.20px;top:860.68px;font-size:25.43px;font-weight:400;color:#111;-webkit-text-stroke:0.6px #111;transform:scaleX(0.9840);">300</span>
<span class="t" style="left:406.40px;top:860.68px;font-size:25.43px;font-weight:400;color:#111;-webkit-text-stroke:0.6px #111;transform:scaleX(0.9745);">400</span>
<span class="t" style="left:455.19px;top:860.68px;font-size:25.43px;font-weight:400;color:#111;-webkit-text-stroke:0.6px #111;transform:scaleX(1.0127);">500</span>
<span class="t" style="left:465.45px;top:912.22px;font-size:31.57px;font-weight:700;color:#000;-webkit-text-stroke:1.5px #000;transform:scaleX(1.0613);">452</span>
<span class="t" style="left:446.65px;top:977.92px;font-size:31.57px;font-weight:700;color:#000;-webkit-text-stroke:1.5px #000;transform:scaleX(1.0939);">430</span>
<span class="t" style="left:441.75px;top:1044.82px;font-size:31.57px;font-weight:700;color:#000;-webkit-text-stroke:1.5px #000;transform:scaleX(1.1169);">420</span>
<span class="t" style="left:328.72px;top:1107.32px;font-size:31.57px;font-weight:700;color:#000;-webkit-text-stroke:1.5px #000;transform:scaleX(1.0273);">186</span>
<span class="t" style="left:311.52px;top:1170.82px;font-size:31.57px;font-weight:700;color:#000;-webkit-text-stroke:1.5px #000;transform:scaleX(1.0312);">153</span>
<span class="t" style="left:288.68px;top:1238.32px;font-size:31.57px;font-weight:700;color:#000;-webkit-text-stroke:1.5px #000;transform:scaleX(1.0716);">112</span>
<span class="t" style="left:275.19px;top:1303.82px;font-size:31.57px;font-weight:700;color:#000;-webkit-text-stroke:1.5px #000;transform:scaleX(1.0580);">87</span>
<span class="t" style="left:265.18px;top:1369.32px;font-size:31.57px;font-weight:700;color:#000;-webkit-text-stroke:1.5px #000;transform:scaleX(1.0708);">64</span>
<span class="t" style="left:258.15px;top:1431.32px;font-size:31.57px;font-weight:700;color:#000;-webkit-text-stroke:1.5px #000;transform:scaleX(1.0448);">55</span>
<span class="t" style="left:256.15px;top:1500.32px;font-size:31.57px;font-weight:700;color:#000;-webkit-text-stroke:1.5px #000;transform:scaleX(1.0245);">50</span>
<span class="t" style="left:91.99px;top:913.79px;font-size:33.19px;font-weight:400;color:#111;-webkit-text-stroke:1.0px #111;transform:scaleX(1.0072);">Escuela</span>
<span class="t" style="left:78.44px;top:953.89px;font-size:33.19px;font-weight:400;color:#111;-webkit-text-stroke:1.0px #111;transform:scaleX(1.0643);">Catarino</span>
<span class="t" style="left:128.90px;top:990.59px;font-size:33.19px;font-weight:400;color:#111;-webkit-text-stroke:1.0px #111;transform:scaleX(1.0017);">Rivas</span>
<span class="t" style="left:80.03px;top:1022.39px;font-size:33.19px;font-weight:400;color:#111;-webkit-text-stroke:1.0px #111;transform:scaleX(1.0835);">Materno</span>
<span class="t" style="left:96.73px;top:1058.29px;font-size:33.19px;font-weight:400;color:#111;-webkit-text-stroke:1.0px #111;transform:scaleX(1.1900);">Infantil</span>
<span class="t" style="left:5.84px;top:1103.89px;font-size:33.19px;font-weight:400;color:#111;-webkit-text-stroke:1.0px #111;transform:scaleX(1.0302);">De Occidente</span>
<span class="t" style="left:79.45px;top:1152.59px;font-size:33.19px;font-weight:400;color:#111;-webkit-text-stroke:1.0px #111;transform:scaleX(1.0478);">Gabriela</span>
<span class="t" style="left:69.40px;top:1189.59px;font-size:33.19px;font-weight:400;color:#111;-webkit-text-stroke:1.0px #111;transform:scaleX(1.0883);">Alvarado</span>
<span class="t" style="left:96.42px;top:1238.89px;font-size:33.19px;font-weight:400;color:#111;-webkit-text-stroke:1.0px #111;transform:scaleX(1.0399);">Del Sur</span>
<span class="t" style="left:154.10px;top:1297.09px;font-size:33.19px;font-weight:400;color:#111;-webkit-text-stroke:1.0px #111;transform:scaleX(0.9952);">San</span>
<span class="t" style="left:62.93px;top:1334.79px;font-size:33.19px;font-weight:400;color:#111;-webkit-text-stroke:1.0px #111;transform:scaleX(1.0358);">Francisco</span>
<span class="t" style="left:97.50px;top:1364.29px;font-size:33.19px;font-weight:400;color:#111;-webkit-text-stroke:1.0px #111;transform:scaleX(1.0018);">Gracias</span>
<span class="t" style="left:10.22px;top:1433.89px;font-size:33.19px;font-weight:400;color:#111;-webkit-text-stroke:1.0px #111;transform:scaleX(1.0263);">Santa Teresa</span>
<span class="t" style="left:107.57px;top:1488.69px;font-size:33.19px;font-weight:400;color:#111;-webkit-text-stroke:1.0px #111;transform:scaleX(1.0673);">Puerto</span>
<span class="t" style="left:113.09px;top:1525.59px;font-size:33.19px;font-weight:400;color:#111;-webkit-text-stroke:1.0px #111;transform:scaleX(1.0123);">Cortés</span>
<span class="t" style="left:556.85px;top:728.34px;font-size:31.01px;font-weight:700;color:#000;-webkit-text-stroke:2.0px #000;transform:scaleX(1.0728);">Principales 5 municipios</span>
<span class="t" style="left:557.94px;top:766.04px;font-size:31.01px;font-weight:700;color:#000;-webkit-text-stroke:2.0px #000;transform:scaleX(1.0586);">que reportan ingresos por</span>
<span class="t" style="left:556.84px;top:803.34px;font-size:31.01px;font-weight:700;color:#000;-webkit-text-stroke:2.0px #000;transform:scaleX(1.0807);">intoxicación</span>
<span class="t" style="left:556.00px;top:870.49px;font-size:35.07px;font-weight:400;color:#1e1e1e;transform:scaleX(0.9699);">Tegucigalpa</span>
<span class="t" style="left:555.05px;top:987.99px;font-size:35.07px;font-weight:400;color:#1e1e1e;transform:scaleX(0.9457);">San Pedro Sula</span>
<span class="t" style="left:554.03px;top:1100.59px;font-size:35.07px;font-weight:400;color:#1e1e1e;transform:scaleX(0.9861);">Danlí</span>
<span class="t" style="left:555.02px;top:1216.19px;font-size:35.07px;font-weight:400;color:#1e1e1e;transform:scaleX(0.9849);">Choluteca</span>
<span class="t" style="left:555.06px;top:1335.89px;font-size:35.07px;font-weight:400;color:#1e1e1e;transform:scaleX(0.9392);">Santa Rosa de Copán</span>
<span class="t" style="left:790.95px;top:920.63px;font-size:31.43px;font-weight:700;color:#000;-webkit-text-stroke:1.5px #000;transform:scaleX(1.0991);">662</span>
<span class="t" style="left:642.67px;top:1043.73px;font-size:31.43px;font-weight:700;color:#000;-webkit-text-stroke:1.5px #000;transform:scaleX(1.0834);">233</span>
<span class="t" style="left:603.68px;top:1152.13px;font-size:31.43px;font-weight:700;color:#000;-webkit-text-stroke:1.5px #000;transform:scaleX(1.0667);">118</span>
<span class="t" style="left:589.64px;top:1262.53px;font-size:31.43px;font-weight:700;color:#000;-webkit-text-stroke:1.5px #000;transform:scaleX(1.1083);">80</span>
<span class="t" style="left:588.21px;top:1389.53px;font-size:31.43px;font-weight:700;color:#000;-webkit-text-stroke:1.5px #000;transform:scaleX(1.0396);">79</span>
<span class="t" style="left:1112.24px;top:186.14px;font-size:31.01px;font-weight:700;color:#000;-webkit-text-stroke:2.0px #000;transform:scaleX(1.0791);">Por tipo de envenenamiento</span>
<span class="t" style="left:1109.88px;top:255.66px;font-size:35.22px;font-weight:400;color:#1e1e1e;transform:scaleX(0.9623);">Envenenamiento por sedantes</span>
<span class="t" style="left:1107.70px;top:293.56px;font-size:35.22px;font-weight:400;color:#1e1e1e;transform:scaleX(0.9765);">y drogas antiparkinsonianas.</span>
<span class="t" style="left:1106.04px;top:361.66px;font-size:35.22px;font-weight:400;color:#1e1e1e;transform:scaleX(0.9780);">Envenenamiento por diuréticos</span>
<span class="t" style="left:1106.80px;top:399.06px;font-size:35.22px;font-weight:400;color:#1e1e1e;transform:scaleX(0.9613);">y otras drogas, medicamentos y</span>
<span class="t" style="left:1106.80px;top:436.56px;font-size:35.22px;font-weight:400;color:#1e1e1e;transform:scaleX(0.9599);">sustancias biológicas no</span>
<span class="t" style="left:1105.85px;top:473.26px;font-size:35.22px;font-weight:400;color:#1e1e1e;transform:scaleX(0.9490);">especificadas.</span>
<span class="t" style="left:1106.05px;top:534.46px;font-size:35.22px;font-weight:400;color:#1e1e1e;transform:scaleX(0.9731);">Envenenamiento por</span>
<span class="t" style="left:1105.84px;top:571.16px;font-size:35.22px;font-weight:400;color:#1e1e1e;transform:scaleX(0.9568);">analgésicos.</span>
<span class="t" style="left:1106.08px;top:637.56px;font-size:35.22px;font-weight:400;color:#1e1e1e;transform:scaleX(0.9617);">Envenenamiento por agentes</span>
<span class="t" style="left:1104.83px;top:676.26px;font-size:35.22px;font-weight:400;color:#1e1e1e;transform:scaleX(0.9830);">principalmente sistémicos y</span>
<span class="t" style="left:1104.84px;top:713.66px;font-size:35.22px;font-weight:400;color:#1e1e1e;transform:scaleX(0.9823);">hematológicos no clasificados.</span>
<span class="t" style="left:1107.86px;top:777.06px;font-size:35.22px;font-weight:400;color:#1e1e1e;transform:scaleX(0.9703);">Envenenamiento por</span>
<span class="t" style="left:1107.45px;top:814.66px;font-size:35.22px;font-weight:400;color:#1e1e1e;transform:scaleX(0.9767);">psicotrópicos no clasificados.</span>
<span class="t" style="left:1106.55px;top:885.76px;font-size:35.22px;font-weight:400;color:#1e1e1e;transform:scaleX(0.9761);">Envenenamiento por hormonas</span>
<span class="t" style="left:1107.80px;top:922.56px;font-size:35.22px;font-weight:400;color:#1e1e1e;transform:scaleX(0.9625);">y sus sustitutos no clasificados.</span>
<span class="t" style="left:1106.08px;top:992.76px;font-size:35.22px;font-weight:400;color:#1e1e1e;transform:scaleX(0.9617);">Envenenamiento por agentes</span>
<span class="t" style="left:1105.81px;top:1028.86px;font-size:35.22px;font-weight:400;color:#1e1e1e;transform:scaleX(0.9950);">que afectan principalmente</span>
<span class="t" style="left:1105.81px;top:1067.26px;font-size:35.22px;font-weight:400;color:#1e1e1e;transform:scaleX(0.9890);">el sistema gastrointestinal.</span>
<span class="t" style="left:1105.05px;top:1126.36px;font-size:35.22px;font-weight:400;color:#1e1e1e;transform:scaleX(0.9731);">Envenenamiento por</span>
<span class="t" style="left:1104.09px;top:1164.46px;font-size:35.22px;font-weight:400;color:#1e1e1e;transform:scaleX(0.9566);">narcóticos Y</span>
<span class="t" style="left:1104.03px;top:1201.56px;font-size:35.22px;font-weight:400;color:#1e1e1e;transform:scaleX(0.9827);">psicodislépticos.</span>
<span class="t" style="left:1250.31px;top:1589.12px;font-size:21.45px;font-weight:700;color:#111;-webkit-text-stroke:0.5px #111;transform:scaleX(0.9421);">FUENTE:</span>
<span class="t" style="left:1344.06px;top:1588.76px;font-size:22.17px;font-weight:400;color:#111;transform:scaleX(0.9352);">SECRETARÍA DE SALUD.</span>
</body></html>
